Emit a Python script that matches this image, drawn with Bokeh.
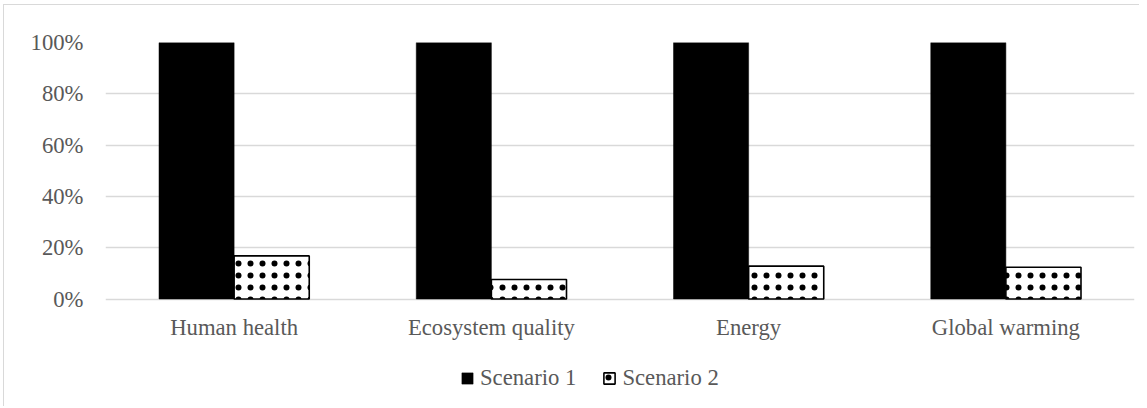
from bokeh.plotting import figure
from bokeh.models import (ColumnDataSource, FactorRange, NumeralTickFormatter, Legend,
                          LegendItem, FixedTicker)
from bokeh.core.properties import value
from bokeh.transform import dodge
from bokeh.embed import file_html
from bokeh.resources import INLINE

categories = ["Human health", "Ecosystem quality", "Energy", "Global warming"]
scenario1 = [1.0, 1.0, 1.0, 1.0]
scenario2 = [0.168, 0.076, 0.128, 0.124]
y_ticks = [0, 0.2, 0.4, 0.6, 0.8, 1.0]

FONT = "Liberation Serif"
TXT = "#595959"
GRID = "#d9d9d9"
FS = "22.7px"
LABEL_Y = -0.111

src = ColumnDataSource(dict(cat=categories, s1=scenario1, s2=scenario2,
                            ly=[LABEL_Y] * len(categories)))

p = figure(x_range=FactorRange(*categories, range_padding=0), y_range=(-0.423, 1.0),
           width=1136, height=402, output_backend="svg", toolbar_location=None,
           x_axis_location=None,
           min_border_left=101, min_border_right=6, min_border_top=37, min_border_bottom=0)
p.outline_line_color = None
p.background_fill_color = "white"
p.border_fill_color = "white"
p.styles = {"border-top": "1px solid #d9d9d9", "border-left": "1px solid #d9d9d9",
            "margin-left": "3px", "margin-top": "4px"}

bw = 0.292
r1 = p.vbar(x=dodge("cat", -bw / 2, range=p.x_range), top="s1", width=bw, source=src,
            fill_color="black", line_color="black", line_width=0.5)
r2 = p.vbar(x=dodge("cat", bw / 2, range=p.x_range), top="s2", width=bw, source=src,
            fill_color="white", line_color="black", line_width=1.6,
            hatch_pattern="dot", hatch_color="black", hatch_scale=12, hatch_weight=0.3)

p.text(x="cat", y="ly", text="cat", source=src, text_align="center", text_baseline="middle",
       text_font=value(FONT), text_font_size=FS, text_color=TXT)

p.yaxis.ticker = FixedTicker(ticks=y_ticks)
p.yaxis.formatter = NumeralTickFormatter(format="0%")
ax = p.yaxis[0]
ax.axis_line_color = None
ax.major_tick_line_color = None
ax.minor_tick_line_color = None
ax.major_label_text_font = FONT
ax.major_label_text_font_size = FS
ax.major_label_text_color = TXT
p.yaxis.major_label_standoff = 16
p.xgrid.grid_line_color = None
p.ygrid.grid_line_color = GRID
p.ygrid.grid_line_width = 1.3

legend = Legend(items=[LegendItem(label="Scenario 1", renderers=[r1]),
                       LegendItem(label="Scenario 2", renderers=[r2])],
                orientation="horizontal", location=(355, 16),
                glyph_width=14, glyph_height=14, label_standoff=6, spacing=26,
                label_text_font=FONT, label_text_font_size=FS, label_text_color=TXT,
                border_line_color=None, background_fill_alpha=0, padding=0, margin=0)
p.add_layout(legend, "center")

open("out.html", "w").write(file_html(p, INLINE))
